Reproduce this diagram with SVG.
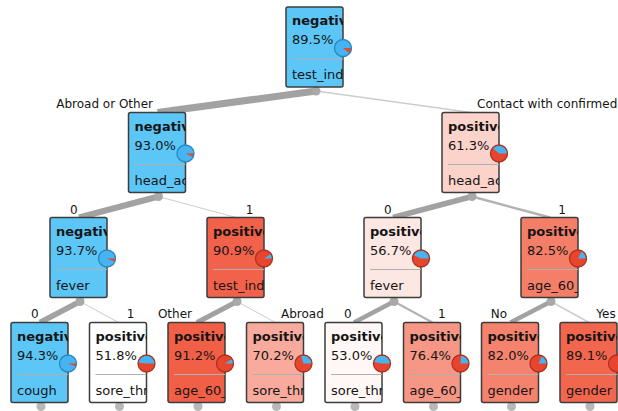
<svg xmlns="http://www.w3.org/2000/svg" width="618" height="411" viewBox="0 0 618 411">
<style>
.box{stroke:#3c3c3c;stroke-width:1.5}
.neg{fill:#5cc6f7}
.t{font-family:"DejaVu Sans","Liberation Sans",sans-serif;font-size:13px;fill:#151515}
.b{font-weight:bold}
.lbl{font-family:"DejaVu Sans","Liberation Sans",sans-serif;font-size:12px;fill:#151515}
.sep{stroke:#b0b0b0;stroke-width:1}
.pb{fill:#45b4f0}
.pr{fill:#e8452f}
.ob{fill:none;stroke:#2a86bd;stroke-width:1.3}
.or{fill:none;stroke:#a8321f;stroke-width:1.3}
.dot{fill:#a9a9a9}
.leafdot{fill:#b8b8b8}
.e{fill:none;stroke:#a2a2a2;stroke-linecap:butt}
.thin{stroke:#cdcdcd}
.mid{stroke:#b3b3b3}
</style>
<defs>
<clipPath id="clip"><rect x="0" y="0" width="57" height="80"/></clipPath>
</defs>
<rect width="618" height="411" fill="#ffffff"/>
<g id="connectors">
<line class="e" x1="316" y1="91" x2="157.5" y2="112.5" stroke-width="7"/>
<line class="e thin" x1="316" y1="91" x2="471" y2="112.5" stroke-width="1.5"/>
<line class="e" x1="158.5" y1="196.5" x2="79" y2="217.5" stroke-width="6"/>
<line class="e thin" x1="158.5" y1="196.5" x2="236" y2="217.5" stroke-width="1"/>
<line class="e" x1="472" y1="196.5" x2="393" y2="217.5" stroke-width="5.5"/>
<line class="e mid" x1="472" y1="196.5" x2="550" y2="217.5" stroke-width="2.5"/>
<line class="e" x1="80" y1="301.5" x2="40" y2="322.5" stroke-width="5.5"/>
<line class="e thin" x1="80" y1="301.5" x2="118.5" y2="322.5" stroke-width="1"/>
<line class="e" x1="237" y1="301.5" x2="197" y2="322.5" stroke-width="5"/>
<line class="e thin" x1="237" y1="301.5" x2="275.5" y2="322.5" stroke-width="1"/>
<line class="e" x1="394" y1="301.5" x2="354" y2="322.5" stroke-width="4.5"/>
<line class="e mid" x1="394" y1="301.5" x2="432.5" y2="322.5" stroke-width="2"/>
<line class="e" x1="551" y1="301.5" x2="510.5" y2="322.5" stroke-width="4.5"/>
<line class="e thin" x1="551" y1="301.5" x2="589" y2="322.5" stroke-width="1.5"/>
<circle class="dot" cx="316" cy="91" r="4.5"/>
<circle class="dot" cx="158.5" cy="196.5" r="4.5"/>
<circle class="dot" cx="472" cy="196.5" r="4.5"/>
<circle class="dot" cx="80" cy="301.5" r="4.5"/>
<circle class="dot" cx="237" cy="301.5" r="4.5"/>
<circle class="dot" cx="394" cy="301.5" r="4.5"/>
<circle class="dot" cx="551" cy="301.5" r="4.5"/>
<circle class="leafdot" cx="41" cy="406.5" r="4.5"/>
<circle class="leafdot" cx="119.5" cy="406.5" r="4.5"/>
<circle class="leafdot" cx="198" cy="406.5" r="4.5"/>
<circle class="leafdot" cx="276.5" cy="406.5" r="4.5"/>
<circle class="leafdot" cx="355" cy="406.5" r="4.5"/>
<circle class="leafdot" cx="433.5" cy="406.5" r="4.5"/>
<circle class="leafdot" cx="511.5" cy="406.5" r="4.5"/>
<circle class="leafdot" cx="590" cy="406.5" r="4.5"/>
<text class="lbl" x="153" y="108" text-anchor="end">Abroad or Other</text>
<text class="lbl" x="477" y="108">Contact with confirmed</text>
<text class="lbl" x="77.6" y="213.5" text-anchor="end">0</text>
<text class="lbl" x="245.7" y="213.5">1</text>
<text class="lbl" x="391.6" y="213.5" text-anchor="end">0</text>
<text class="lbl" x="558.3" y="213.5">1</text>
<text class="lbl" x="38.6" y="318" text-anchor="end">0</text>
<text class="lbl" x="126.7" y="318">1</text>
<text class="lbl" x="192" y="318" text-anchor="end">Other</text>
<text class="lbl" x="281" y="318">Abroad</text>
<text class="lbl" x="351.6" y="318" text-anchor="end">0</text>
<text class="lbl" x="438" y="318">1</text>
<text class="lbl" x="507" y="318" text-anchor="end">No</text>
<text class="lbl" x="596.3" y="318">Yes</text>
</g>
<g id="n_root" transform="translate(286,7)">
<rect class="box neg" width="57" height="80" rx="2"/>
<g clip-path="url(#clip)"><text class="t b" x="6" y="18">negativ</text><text class="t" x="6" y="37">89.5%</text><line class="sep" x1="6" y1="52" x2="57" y2="52"/><text class="t" x="6" y="72">test_ind</text></g>
<circle class="pb" cx="57" cy="41" r="8.5"/><path class="pr" d="M57 41L65.5 41A8.5 8.5 0 0 1 63.72 46.21Z"/><circle class="ob" cx="57" cy="41" r="8.5"/>
</g>
<g id="n_l2a" transform="translate(128.5,112.5)">
<rect class="box neg" width="57" height="80" rx="2"/>
<g clip-path="url(#clip)"><text class="t b" x="6" y="18">negativ</text><text class="t" x="6" y="37">93.0%</text><line class="sep" x1="6" y1="52" x2="57" y2="52"/><text class="t" x="6" y="72">head_ac</text></g>
<circle class="pb" cx="57" cy="41" r="8.5"/><path class="pr" d="M57 41L65.5 41A8.5 8.5 0 0 1 64.69 44.62Z"/><circle class="ob" cx="57" cy="41" r="8.5"/>
</g>
<g id="n_l2b" transform="translate(442,112.5)">
<rect class="box" fill="#fbd3cb" width="57" height="80" rx="2"/>
<g clip-path="url(#clip)"><text class="t b" x="6" y="18">positive</text><text class="t" x="6" y="37">61.3%</text><line class="sep" x1="6" y1="52" x2="57" y2="52"/><text class="t" x="6" y="72">head_ac</text></g>
<circle class="pr" cx="57" cy="41" r="8.5"/><path class="pb" d="M57 41L65.5 41A8.5 8.5 0 0 0 50.56 35.46Z"/><circle class="or" cx="57" cy="41" r="8.5"/>
</g>
<g id="n_l3a" transform="translate(50,217.5)">
<rect class="box neg" width="57" height="80" rx="2"/>
<g clip-path="url(#clip)"><text class="t b" x="6" y="18">negativ</text><text class="t" x="6" y="37">93.7%</text><line class="sep" x1="6" y1="52" x2="57" y2="52"/><text class="t" x="6" y="72">fever</text></g>
<circle class="pb" cx="57" cy="41" r="8.5"/><path class="pr" d="M57 41L65.5 41A8.5 8.5 0 0 1 64.84 44.28Z"/><circle class="ob" cx="57" cy="41" r="8.5"/>
</g>
<g id="n_l3b" transform="translate(207,217.5)">
<rect class="box" fill="#f2614a" width="57" height="80" rx="2"/>
<g clip-path="url(#clip)"><text class="t b" x="6" y="18">positive</text><text class="t" x="6" y="37">90.9%</text><line class="sep" x1="6" y1="52" x2="57" y2="52"/><text class="t" x="6" y="72">test_ind</text></g>
<circle class="pr" cx="57" cy="41" r="8.5"/><path class="pb" d="M57 41L65.5 41A8.5 8.5 0 0 0 64.15 36.4Z"/><circle class="or" cx="57" cy="41" r="8.5"/>
</g>
<g id="n_l3c" transform="translate(364,217.5)">
<rect class="box" fill="#fde7e2" width="57" height="80" rx="2"/>
<g clip-path="url(#clip)"><text class="t b" x="6" y="18">positive</text><text class="t" x="6" y="37">56.7%</text><line class="sep" x1="6" y1="52" x2="57" y2="52"/><text class="t" x="6" y="72">fever</text></g>
<circle class="pr" cx="57" cy="41" r="8.5"/><path class="pb" d="M57 41L65.5 41A8.5 8.5 0 0 0 49.24 37.53Z"/><circle class="or" cx="57" cy="41" r="8.5"/>
</g>
<g id="n_l3d" transform="translate(521,217.5)">
<rect class="box" fill="#f47e68" width="57" height="80" rx="2"/>
<g clip-path="url(#clip)"><text class="t b" x="6" y="18">positive</text><text class="t" x="6" y="37">82.5%</text><line class="sep" x1="6" y1="52" x2="57" y2="52"/><text class="t" x="6" y="72">age_60_</text></g>
<circle class="pr" cx="57" cy="41" r="8.5"/><path class="pb" d="M57 41L65.5 41A8.5 8.5 0 0 0 60.86 33.43Z"/><circle class="or" cx="57" cy="41" r="8.5"/>
</g>
<g id="n_l4a" transform="translate(11,322.5)">
<rect class="box neg" width="57" height="80" rx="2"/>
<g clip-path="url(#clip)"><text class="t b" x="6" y="18">negativ</text><text class="t" x="6" y="37">94.3%</text><line class="sep" x1="6" y1="52" x2="57" y2="52"/><text class="t" x="6" y="72">cough</text></g>
<circle class="pb" cx="57" cy="41" r="8.5"/><path class="pr" d="M57 41L65.5 41A8.5 8.5 0 0 1 64.96 43.98Z"/><circle class="ob" cx="57" cy="41" r="8.5"/>
</g>
<g id="n_l4b" transform="translate(89.5,322.5)">
<rect class="box" fill="#ffffff" width="57" height="80" rx="2"/>
<g clip-path="url(#clip)"><text class="t b" x="6" y="18">positive</text><text class="t" x="6" y="37">51.8%</text><line class="sep" x1="6" y1="52" x2="57" y2="52"/><text class="t" x="6" y="72">sore_thr</text></g>
<circle class="pr" cx="57" cy="41" r="8.5"/><path class="pb" d="M57 41L65.5 41A8.5 8.5 0 0 0 48.55 40.04Z"/><circle class="or" cx="57" cy="41" r="8.5"/>
</g>
<g id="n_l4c" transform="translate(168,322.5)">
<rect class="box" fill="#f25f47" width="57" height="80" rx="2"/>
<g clip-path="url(#clip)"><text class="t b" x="6" y="18">positive</text><text class="t" x="6" y="37">91.2%</text><line class="sep" x1="6" y1="52" x2="57" y2="52"/><text class="t" x="6" y="72">age_60_</text></g>
<circle class="pr" cx="57" cy="41" r="8.5"/><path class="pb" d="M57 41L65.5 41A8.5 8.5 0 0 0 64.23 36.54Z"/><circle class="or" cx="57" cy="41" r="8.5"/>
</g>
<g id="n_l4d" transform="translate(246.5,322.5)">
<rect class="box" fill="#f8aa9c" width="57" height="80" rx="2"/>
<g clip-path="url(#clip)"><text class="t b" x="6" y="18">positive</text><text class="t" x="6" y="37">70.2%</text><line class="sep" x1="6" y1="52" x2="57" y2="52"/><text class="t" x="6" y="72">sore_thr</text></g>
<circle class="pr" cx="57" cy="41" r="8.5"/><path class="pb" d="M57 41L65.5 41A8.5 8.5 0 0 0 54.48 32.88Z"/><circle class="or" cx="57" cy="41" r="8.5"/>
</g>
<g id="n_l4e" transform="translate(325,322.5)">
<rect class="box" fill="#fff8f6" width="57" height="80" rx="2"/>
<g clip-path="url(#clip)"><text class="t b" x="6" y="18">positive</text><text class="t" x="6" y="37">53.0%</text><line class="sep" x1="6" y1="52" x2="57" y2="52"/><text class="t" x="6" y="72">sore_thr</text></g>
<circle class="pr" cx="57" cy="41" r="8.5"/><path class="pb" d="M57 41L65.5 41A8.5 8.5 0 0 0 48.65 39.41Z"/><circle class="or" cx="57" cy="41" r="8.5"/>
</g>
<g id="n_l4f" transform="translate(403.5,322.5)">
<rect class="box" fill="#f69684" width="57" height="80" rx="2"/>
<g clip-path="url(#clip)"><text class="t b" x="6" y="18">positive</text><text class="t" x="6" y="37">76.4%</text><line class="sep" x1="6" y1="52" x2="57" y2="52"/><text class="t" x="6" y="72">age_60_</text></g>
<circle class="pr" cx="57" cy="41" r="8.5"/><path class="pb" d="M57 41L65.5 41A8.5 8.5 0 0 0 57.75 32.53Z"/><circle class="or" cx="57" cy="41" r="8.5"/>
</g>
<g id="n_l4g" transform="translate(481.5,322.5)">
<rect class="box" fill="#f5826d" width="57" height="80" rx="2"/>
<g clip-path="url(#clip)"><text class="t b" x="6" y="18">positive</text><text class="t" x="6" y="37">82.0%</text><line class="sep" x1="6" y1="52" x2="57" y2="52"/><text class="t" x="6" y="72">gender</text></g>
<circle class="pr" cx="57" cy="41" r="8.5"/><path class="pb" d="M57 41L65.5 41A8.5 8.5 0 0 0 60.62 33.31Z"/><circle class="or" cx="57" cy="41" r="8.5"/>
</g>
<g id="n_l4h" transform="translate(560,322.5)">
<rect class="box" fill="#f3664e" width="57" height="80" rx="2"/>
<g clip-path="url(#clip)"><text class="t b" x="6" y="18">positive</text><text class="t" x="6" y="37">89.1%</text><line class="sep" x1="6" y1="52" x2="57" y2="52"/><text class="t" x="6" y="72">gender</text></g>
<circle class="pr" cx="57" cy="41" r="8.5"/><path class="pb" d="M57 41L65.5 41A8.5 8.5 0 0 0 63.58 35.62Z"/><circle class="or" cx="57" cy="41" r="8.5"/>
</g>
</svg>
